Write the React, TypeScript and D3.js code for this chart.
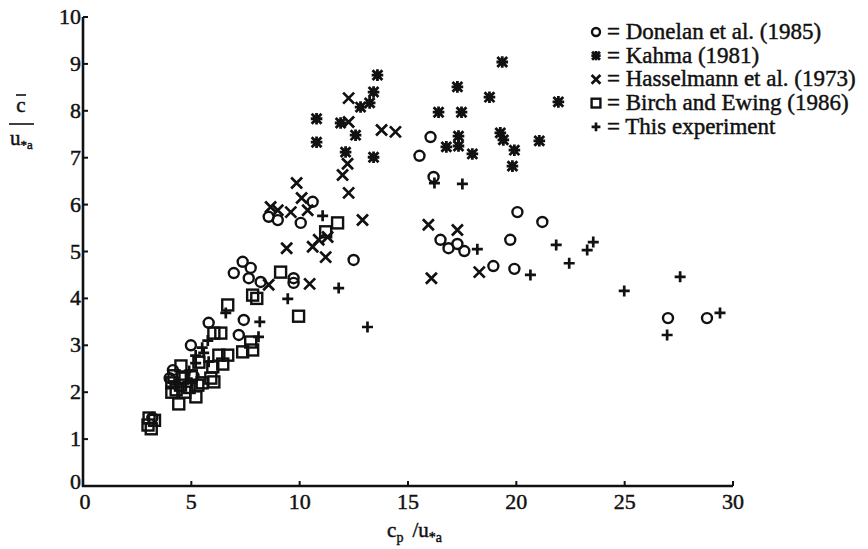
import React from 'react';
import * as d3 from 'd3';

// c_p/u*a (x) vs c/u*a (y)
const donelan: [number, number][] = [
  [16.04, 7.44], [15.53, 7.04], [16.18, 6.59], [20.05, 5.84], [21.2, 5.63],
  [16.5, 5.25], [16.87, 5.07], [17.28, 5.16], [17.6, 5.01], [19.72, 5.25],
  [18.94, 4.69], [19.91, 4.63], [27.0, 3.58], [28.8, 3.58], [10.6, 6.06],
  [10.05, 5.61], [8.57, 5.74], [8.99, 5.67], [12.49, 4.82], [7.37, 4.78],
  [7.74, 4.65], [6.96, 4.54], [7.65, 4.43], [8.2, 4.35], [9.72, 4.43],
  [9.72, 4.33], [7.42, 3.54], [5.8, 3.48], [4.98, 3.0], [7.19, 3.22],
  [4.15, 2.47], [4.0, 2.3], [3.2, 1.45], [5.1, 2.35],
];

const kahma: [number, number][] = [
  [13.59, 8.76], [13.41, 8.4], [13.23, 8.17], [12.81, 8.08], [17.28, 8.51],
  [18.76, 8.29], [21.94, 8.19], [16.41, 7.97], [17.47, 7.97], [17.33, 7.46],
  [16.77, 7.23], [17.33, 7.25], [17.97, 7.08], [19.26, 7.53], [19.4, 7.38],
  [19.91, 7.16], [19.82, 6.82], [21.06, 7.36], [13.41, 7.01], [19.35, 9.04],
  [10.78, 7.83], [11.89, 7.74], [12.58, 7.48], [10.78, 7.33], [12.12, 7.12],
];

const hasselmann: [number, number][] = [
  [12.26, 8.27], [12.26, 7.76], [13.78, 7.59], [14.42, 7.55], [12.21, 6.87],
  [11.98, 6.63], [9.86, 6.46], [12.26, 6.25], [10.09, 6.14], [8.66, 5.95],
  [8.99, 5.88], [9.59, 5.84], [10.37, 5.88], [12.9, 5.67], [9.4, 5.07],
  [10.6, 5.1], [10.88, 5.25], [11.29, 5.31], [11.2, 4.88], [8.57, 4.29],
  [10.46, 4.31], [15.94, 5.57], [17.28, 5.46], [16.08, 4.43], [18.29, 4.56],
];

const birch: [number, number][] = [
  [11.75, 5.61], [11.2, 5.42], [9.12, 4.56], [7.83, 4.07], [8.02, 4.0],
  [9.95, 3.62], [6.68, 3.86], [6.36, 3.26], [6.04, 3.26], [7.74, 3.07],
  [7.37, 2.86], [7.83, 2.9], [6.68, 2.79], [6.27, 2.79], [6.45, 2.6],
  [5.99, 2.54], [4.52, 2.56], [5.35, 2.64], [5.9, 2.3], [6.04, 2.22],
  [5.21, 1.9], [4.42, 1.75], [4.1, 2.2], [4.3, 2.05], [4.6, 2.3],
  [4.9, 2.1], [5.0, 2.35], [5.5, 2.2], [4.1, 2.0], [3.0, 1.3],
  [3.15, 1.22], [3.05, 1.45], [3.3, 1.4], [4.2, 2.35], [4.7, 2.0],
  [5.3, 2.15], [4.5, 2.15],
];

const thisExp: [number, number][] = [
  [16.22, 6.46], [17.51, 6.44], [18.2, 5.05], [21.84, 5.14], [22.44, 4.75],
  [20.65, 4.5], [13.13, 3.39], [23.27, 5.03], [23.55, 5.2], [24.98, 4.16],
  [27.56, 4.46], [26.96, 3.22], [29.4, 3.69], [11.06, 5.76], [11.8, 4.22],
  [9.45, 3.99], [8.16, 3.5], [8.1, 3.18], [6.59, 3.69], [5.57, 2.84],
  [5.2, 2.62], [5.5, 2.95], [5.0, 2.2], [5.8, 2.65], [5.76, 3.1],
  [5.2, 2.78], [4.4, 2.2], [4.9, 2.45],
];

const xTicks = [0, 5, 10, 15, 20, 25, 30];
const yTicks = [0, 1, 2, 3, 4, 5, 6, 7, 8, 9, 10];

const legendItems = [
  { kind: 'circle', label: 'Donelan et al. (1985)' },
  { kind: 'star', label: 'Kahma (1981)' },
  { kind: 'cross', label: 'Hasselmann et al. (1973)' },
  { kind: 'square', label: 'Birch and Ewing (1986)' },
  { kind: 'plus', label: 'This experiment' },
];

const ink = '#111';
const font = '"Liberation Serif", "Times New Roman", serif';
// scanned type is a little heavier than a clean font
const textInk = { fill: ink, stroke: ink, strokeWidth: 0.45 };

const Marker = ({ kind, x, y, s = 1 }: { kind: string; x: number; y: number; s?: number }) => {
  const sw = 2.4;
  if (kind === 'circle')
    return <circle cx={x} cy={y} r={5 * s} fill="none" stroke={ink} strokeWidth={sw} />;
  if (kind === 'square')
    return <rect x={x - 5.5 * s} y={y - 5.5 * s} width={11 * s} height={11 * s} fill="none" stroke={ink} strokeWidth={sw} />;
  if (kind === 'cross') {
    const h = 5.5 * s;
    return (
      <path d={`M${x - h},${y - h}L${x + h},${y + h}M${x - h},${y + h}L${x + h},${y - h}`} stroke={ink} strokeWidth={2.7} />
    );
  }
  if (kind === 'plus') {
    const h = 5.5 * s;
    return <path d={`M${x - h},${y}L${x + h},${y}M${x},${y - h}L${x},${y + h}`} stroke={ink} strokeWidth={2.7} />;
  }
  // heavy asterisk
  const h = 5.8 * s;
  const d = h * 0.85;
  return (
    <g stroke={ink} strokeWidth={2.8}>
      <path d={`M${x - h},${y}L${x + h},${y}M${x},${y - h}L${x},${y + h}`} />
      <path d={`M${x - d},${y - d}L${x + d},${y + d}M${x - d},${y + d}L${x + d},${y - d}`} />
      <rect x={x - 3.5 * s} y={y - 3.5 * s} width={7 * s} height={7 * s} fill={ink} stroke="none" />
    </g>
  );
};

export default function App() {
  const width = 868;
  const height = 549;
  const x = d3.scaleLinear().domain([0, 30]).range([83, 733]);
  const y = d3.scaleLinear().domain([0, 10]).range([486, 17]);

  const series: [string, [number, number][]][] = [
    ['square', birch],
    ['circle', donelan],
    ['cross', hasselmann],
    ['star', kahma],
    ['plus', thisExp],
  ];

  return (
    <div style={{ position: 'absolute', left: 0, top: 0 }}>
      <svg width={width} height={height} style={{ display: 'block', background: '#fff' }} fontFamily={font}>
        {/* axes */}
        <line x1={x(0)} x2={x(0)} y1={y(0) + 1} y2={y(10)} stroke={ink} strokeWidth={2.6} />
        <line x1={x(0) - 1} x2={x(30)} y1={y(0)} y2={y(0)} stroke={ink} strokeWidth={2.6} />
        {yTicks.map(t => (
          <g key={'y' + t}>
            <line x1={x(0)} x2={x(0) + 5} y1={y(t)} y2={y(t)} stroke={ink} strokeWidth={2} />
            <text x={x(0) - 2} y={y(t) + (t === 0 ? 3 : 7)} textAnchor="end" fontSize={22} {...textInk}>{t}</text>
          </g>
        ))}
        {xTicks.map(t => (
          <g key={'x' + t}>
            <line x1={x(t)} x2={x(t)} y1={y(0)} y2={y(0) - 5} stroke={ink} strokeWidth={2} />
            <text x={x(t) + (t === 0 ? 2 : 0)} y={y(0) + 23} textAnchor="middle" fontSize={22} {...textInk}>{t}</text>
          </g>
        ))}

        {/* axis titles */}
        <text x={x(15.3)} y={537} textAnchor="middle" fontSize={21} {...textInk}>
          <tspan>c</tspan>
          <tspan fontSize={14} dy={5}>p</tspan>
          <tspan dy={-5} dx={9}>/u</tspan>
          <tspan fontSize={14} dy={5}>*a</tspan>
        </text>
        <g>
          <text x={21} y={112} textAnchor="middle" fontSize={21} {...textInk}>c</text>
          <line x1={16} x2={26} y1={95} y2={95} stroke={ink} strokeWidth={1.6} />
          <line x1={9} x2={34} y1={124} y2={124} stroke={ink} strokeWidth={1.6} />
          <text x={10} y={145} fontSize={21} {...textInk}>
            <tspan>u</tspan>
            <tspan fontSize={13} dy={4}>*a</tspan>
          </text>
        </g>

        {/* data */}
        {series.map(([kind, pts]) =>
          pts.map((p, i) => <Marker key={kind + i} kind={kind} x={x(p[0])} y={y(p[1])} />)
        )}

        {/* legend */}
        {legendItems.map((item, i) => {
          const cy = 32 + i * 23.7;
          return (
            <g key={item.label}>
              <Marker kind={item.kind} x={596} y={cy} s={0.8} />
              <text x={607} y={cy + 7} fontSize={23} {...textInk}>= {item.label}</text>
            </g>
          );
        })}
      </svg>
    </div>
  );
}
